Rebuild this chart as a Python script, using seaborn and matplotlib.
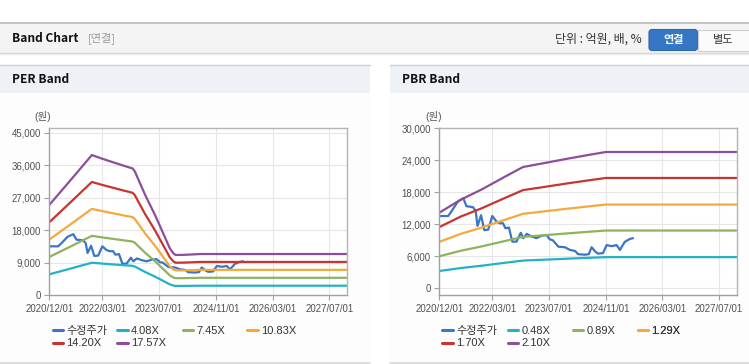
import matplotlib
matplotlib.use("Agg")
import matplotlib.pyplot as plt
import pandas as pd
import seaborn as sns
from matplotlib.lines import Line2D
from matplotlib.patches import Rectangle, FancyBboxPatch
from matplotlib.ticker import FuncFormatter

# ---------------- data ----------------
price_label = "수정주가"
price_dates = ["2020-12-01", "2021-02-15", "2021-03-15", "2021-05-07", "2021-06-25", "2021-07-22",
               "2021-09-18", "2021-10-10", "2021-10-25", "2021-11-25", "2021-12-22", "2022-01-25",
               "2022-03-01", "2022-04-07", "2022-05-03", "2022-06-01", "2022-06-22", "2022-07-22",
               "2022-08-20", "2022-09-25", "2022-11-01", "2022-11-22", "2022-12-22", "2023-02-03",
               "2023-03-15", "2023-04-28", "2023-06-10", "2023-07-07", "2023-08-03", "2023-09-20",
               "2023-11-15", "2023-12-28", "2024-02-10", "2024-03-07", "2024-05-03", "2024-06-07",
               "2024-07-01", "2024-08-01", "2024-08-25", "2024-10-07", "2024-11-07", "2024-12-20",
               "2025-02-01", "2025-03-01", "2025-04-12", "2025-05-25", "2025-06-22"]
price_values = [13550, 13550, 14400, 16200, 16900, 15400,
                15200, 14400, 11700, 13700, 10900, 11000,
                13550, 12500, 12200, 12200, 11250, 11400,
                8750, 8750, 10400, 9400, 10200, 9700,
                9400, 9850, 10000, 9200, 9000, 7800,
                7700, 7200, 7000, 6400, 6300, 6400,
                7700, 6900, 6500, 6600, 8100, 7900,
                8100, 7200, 8700, 9250, 9400]

eps_dates = ["2020-12-01", "2021-06-01", "2021-12-01", "2022-03-01", "2022-06-01", "2022-09-01",
             "2022-11-15", "2022-12-05", "2023-03-01", "2023-06-01", "2023-09-01", "2023-10-01",
             "2023-11-01", "2023-11-20", "2024-02-01", "2024-06-20", "2027-12-01"]
eps_values = [1423, 1812, 2208, 2150, 2095, 2040,
              1998, 1950, 1590, 1245, 865, 740,
              660, 635, 637, 650, 650]

bps_dates = ["2020-12-01", "2021-06-01", "2021-12-01", "2022-06-01", "2022-11-20", "2023-06-01",
             "2023-12-01", "2024-06-01", "2024-11-01", "2027-12-01"]
bps_values = [6750, 7900, 8830, 9870, 10830, 11200, 11560, 11900, 12170, 12170]

per_multiples = [4.08, 7.45, 10.83, 14.20, 17.57]
per_labels = ["4.08X", "7.45X", "10.83X", "14.20X", "17.57X"]
pbr_multiples = [0.48, 0.89, 1.29, 1.70, 2.10]
pbr_labels = ["0.48X", "0.89X", "1.29X", "1.70X", "2.10X"]

x_tick_labels = ["2020/12/01", "2022/03/01", "2023/07/01", "2024/11/01", "2026/03/01", "2027/07/01"]
per_y_ticks = [0, 9000, 18000, 27000, 36000, 45000]
pbr_y_ticks = [0, 6000, 12000, 18000, 24000, 30000]

line_colors = ["#3c74c6", "#21b3c5", "#8db35e", "#f3a93c", "#c93431", "#8c4e9a"]

# ---------------- style ----------------
sns.set_style("white")
plt.rcParams["font.family"] = ["Liberation Sans", "Noto Sans CJK KR", "DejaVu Sans"]

W, H = 749, 364
fig = plt.figure(figsize=(W / 100, H / 100), dpi=100)
fig.patch.set_facecolor("white")


def rect(x0, y0, x1, y1):
    return [x0 / W, 1 - y1 / H, (x1 - x0) / W, (y1 - y0) / H]


bg = fig.add_axes([0, 0, 1, 1], zorder=-10)
bg.set_xlim(0, W)
bg.set_ylim(H, 0)
bg.axis("off")

# top bar
bg.add_patch(Rectangle((0, 22.5), W, 30, facecolor="#f4f4f4", edgecolor="none"))
bg.plot([0, W], [22.5, 22.5], color="#b8b8b8", lw=1.2)
bg.plot([0, W], [52.5, 52.5], color="#d4d4d4", lw=1.0)
bg.plot([0, W], [53.6, 53.6], color="#ececec", lw=1.0)
bold = ["Noto Sans CJK KR"]
bg.text(12, 38, "Band Chart", fontsize=8.6, fontweight="bold", family=bold, va="center", ha="left", color="#111111")
bg.text(88, 38, "[연결]", fontsize=8, family=bold, va="center", ha="left", color="#9a9a9a")
bg.text(642, 39, "단위 : 억원, 배, %", fontsize=8.6, family=bold, va="center", ha="right", color="#333333")
bg.add_patch(FancyBboxPatch((649, 29.5), 48.5, 21, boxstyle="round,pad=0,rounding_size=3",
                            facecolor="#3577c2", edgecolor="#2c67ac", lw=0.8))
bg.text(673.5, 39.5, "연결", fontsize=8, fontweight="bold", family=bold, va="center", ha="center", color="white")
bg.add_patch(Rectangle((697.5, 29.5), 52, 21, facecolor="#fafafa", edgecolor="#cfcfcf", lw=0.8))
bg.text(723, 39.5, "별도", fontsize=8, family=bold, va="center", ha="center", color="#333333")

# panels
for px0, px1, title in [(0, 370, "PER Band"), (390, 749, "PBR Band")]:
    bg.add_patch(Rectangle((px0, 64), px1 - px0, 299, facecolor="#fdfdfd", edgecolor="none"))
    bg.add_patch(Rectangle((px0, 64.5), px1 - px0, 28.5, facecolor="#eef2f7", edgecolor="none"))
    bg.plot([px0, px1], [64.5, 64.5], color="#cfcfcf", lw=1.0)
    bg.plot([px0, px1], [362.5, 362.5], color="#d6d6d6", lw=1.2)
    bg.text(px0 + 12, 79.5, title, fontsize=8.6, fontweight="bold", family=bold, va="center", ha="left", color="#111111")


def build_frame(base_dates, base_values, multiples, labels):
    rows = [{"date": pd.Timestamp(d), "value": v, "series": price_label}
            for d, v in zip(price_dates, price_values)]
    for m, lab in zip(multiples, labels):
        rows += [{"date": pd.Timestamp(d), "value": b * m, "series": lab}
                 for d, b in zip(base_dates, base_values)]
    return pd.DataFrame(rows)


def draw_chart(box, base_dates, base_values, multiples, labels, yticks, ylim, unit_x, legend_x):
    ax = fig.add_axes(rect(*box))
    ax.set_facecolor("white")
    df = build_frame(base_dates, base_values, multiples, labels)
    order = [price_label] + labels
    sns.lineplot(data=df, x="date", y="value", hue="series", hue_order=order,
                 palette=dict(zip(order, line_colors)), estimator=None, sort=False,
                 linewidth=1.6, legend=False, ax=ax)
    ax.set_xlim(pd.Timestamp("2020-12-01"), pd.Timestamp("2027-12-02"))
    ax.set_ylim(*ylim)
    xt = pd.to_datetime(x_tick_labels, format="%Y/%m/%d")
    ax.set_xticks(xt)
    ax.set_xticklabels(x_tick_labels)
    ax.set_yticks(yticks)
    ax.yaxis.set_major_formatter(FuncFormatter(lambda v, p: f"{v:,.0f}"))
    ax.set_xlabel("")
    ax.set_ylabel("")
    ax.grid(True, color="#e6e6e6", lw=0.8)
    ax.set_axisbelow(True)
    for side, sp in ax.spines.items():
        sp.set_color("#b4b4b4")
        sp.set_linewidth(1.0)
    ax.spines["left"].set_color("#a0a0a0")
    ax.spines["bottom"].set_color("#a0a0a0")
    ax.tick_params(axis="both", labelsize=6.9, labelcolor="#505050", color="#a0a0a0",
                   length=3.5, width=0.8, pad=2.5, direction="out", left=True, bottom=True)
    bg.text(unit_x, 117, "(원)", fontsize=7.5, ha="center", va="center", color="#555555")

    handles = {lab: Line2D([], [], color=c, lw=2.2) for lab, c in zip(order, line_colors)}
    columns = [[order[0], order[4]], [order[1], order[5]], [order[2]], [order[3]]]
    for cx, col in zip(legend_x, columns):
        leg = bg.legend([handles[l] for l in col], col, loc="upper left",
                        bbox_to_anchor=(cx, 326), bbox_transform=bg.transData,
                        frameon=False, fontsize=8, handlelength=0.95, handletextpad=0.3,
                        borderpad=0, borderaxespad=0, labelspacing=0.22, labelcolor="#333333")
        bg.add_artist(leg)
    return ax


draw_chart((49.3, 128.3, 347.3, 295.3), eps_dates, eps_values, per_multiples, per_labels,
           per_y_ticks, (0, 46200), 43, [52.7, 117.3, 182.7, 247.3])
draw_chart((439.3, 128.3, 737, 295.3), bps_dates, bps_values, pbr_multiples, pbr_labels,
           pbr_y_ticks, (-1312, 30000), 434, [442.3, 507.7, 572.7, 637.7])

fig.savefig("out.png", dpi=100)
